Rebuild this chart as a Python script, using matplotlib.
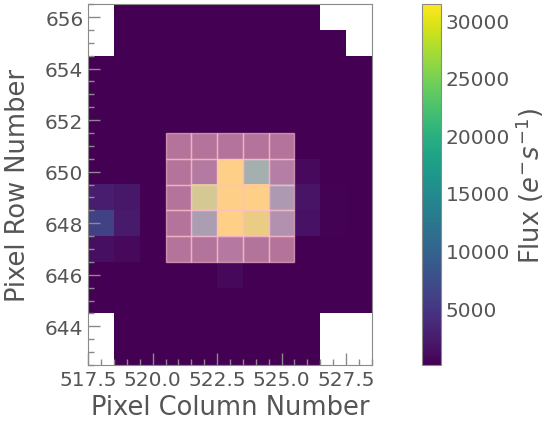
import numpy as np
import matplotlib.pyplot as plt
from matplotlib import patches
from matplotlib.ticker import MultipleLocator

# Target pixel file frame: columns 518..528, rows 656 (top) .. 643 (bottom)
columns = np.arange(518, 529)
rows = np.arange(643, 657)
bg = 150.0
nan = np.nan

flux_rows_top_down = [
    [nan, bg, bg, bg, bg, bg, bg, bg, bg, nan, nan],          # 656
    [nan, bg, bg, bg, bg, bg, bg, bg, bg, bg, nan],           # 655
    [bg, bg, bg, bg, bg, bg, bg, bg, bg, bg, bg],             # 654
    [bg, bg, bg, bg, bg, bg, bg, bg, bg, bg, bg],             # 653
    [bg, bg, bg, bg, bg, bg, bg, bg, bg, bg, bg],             # 652
    [bg, bg, bg, bg, bg, 300, bg, bg, bg, bg, bg],            # 651
    [bg, bg, bg, bg, 1700, 33000, 17000, 2500, 900, bg, bg],  # 650
    [2400, 2100, bg, 300, 26500, 33000, 32500, 9500, 1700, 300, bg],  # 649
    [6300, 2300, bg, 300, 11000, 33000, 29000, 7000, 1600, 300, bg],  # 648
    [1300, 900, bg, bg, 400, 1500, 400, 300, bg, bg, bg],     # 647
    [bg, bg, bg, bg, bg, 700, bg, bg, bg, bg, bg],            # 646
    [bg, bg, bg, bg, bg, bg, bg, bg, bg, bg, bg],             # 645
    [nan, bg, bg, bg, bg, bg, bg, bg, bg, nan, nan],          # 644
    [nan, bg, bg, bg, bg, bg, bg, bg, bg, nan, nan],          # 643
]

# Aperture mask pixels
aperture_columns = [521, 522, 523, 524, 525]
aperture_rows = [647, 648, 649, 650, 651]

flux_vmin = 60
flux_vmax = 31400
cbar_ticks = [5000, 10000, 15000, 20000, 25000, 30000]

text_color = '#555555'
edge_color = '#8a8a8a'

plt.rcParams['font.family'] = 'DejaVu Sans'
plt.rcParams['text.color'] = text_color
plt.rcParams['axes.labelcolor'] = text_color
plt.rcParams['xtick.color'] = edge_color
plt.rcParams['ytick.color'] = edge_color
plt.rcParams['xtick.labelcolor'] = text_color
plt.rcParams['ytick.labelcolor'] = text_color

fig = plt.figure(figsize=(5.47, 4.27), dpi=100)
ax = fig.add_axes([0.161, 0.143, 0.519, 0.845])
cax = fig.add_axes([0.7715, 0.143, 0.0347, 0.845])

data = np.array(flux_rows_top_down, dtype=float)
extent = (columns[0] - 0.5, columns[-1] + 0.5, rows[0] - 0.5, rows[-1] + 0.5)
im = ax.imshow(data, origin='upper', extent=extent, cmap='viridis',
               vmin=flux_vmin, vmax=flux_vmax, interpolation='nearest')

# Overlay the aperture mask
for c in aperture_columns:
    for r in aperture_rows:
        ax.add_patch(patches.Rectangle((c - 0.5, r - 0.5), 1, 1, color='pink',
                                       fill=True, alpha=0.6))

ax.set_xlim(extent[0], extent[1])
ax.set_ylim(extent[2], extent[3])
ax.xaxis.set_major_locator(MultipleLocator(2.5))
ax.xaxis.set_minor_locator(MultipleLocator(0.5))
ax.yaxis.set_major_locator(MultipleLocator(2))
ax.yaxis.set_minor_locator(MultipleLocator(0.5))
ax.tick_params(which='both', direction='in', top=False, right=False)
ax.tick_params(which='major', length=8.5, width=1, labelsize=14.5)
ax.tick_params(which='minor', length=4.5, width=1)
ax.set_xlabel('Pixel Column Number', fontsize=18.5)
ax.set_ylabel('Pixel Row Number', fontsize=18.5, labelpad=10)
for s in ax.spines.values():
    s.set_color(edge_color)

cbar = fig.colorbar(im, cax=cax)
cbar.set_ticks(cbar_ticks)
cbar.ax.tick_params(direction='in', length=0, labelsize=14.5)
cbar.set_label(r'Flux ($e^{-}s^{-1}$)', fontsize=18.5, labelpad=2)
cbar.outline.set_edgecolor(edge_color)

fig.savefig('out.png', dpi=100)
